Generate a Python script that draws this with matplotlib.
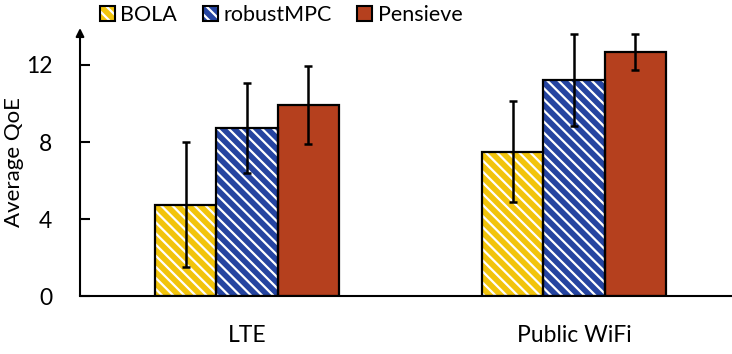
import numpy as np
import matplotlib
matplotlib.use("Agg")
import matplotlib.pyplot as plt
from matplotlib.patches import Patch
from matplotlib.legend_handler import HandlerTuple

groups = ["LTE", "Public WiFi"]
schemes = ["BOLA", "robustMPC", "Pensieve"]
means = {
    "BOLA": [4.75, 7.5],
    "robustMPC": [8.73, 11.22],
    "Pensieve": [9.92, 12.68],
}
errs = {
    "BOLA": [3.25, 2.63],
    "robustMPC": [2.33, 2.4],
    "Pensieve": [2.02, 0.95],
}
colors = {"BOLA": "#F2C40C", "robustMPC": "#2544A0", "Pensieve": "#B5401E"}
hatches = {"BOLA": "\\\\\\", "robustMPC": "\\\\\\", "Pensieve": None}

plt.rcParams["font.family"] = ["Lato", "DejaVu Sans"]
plt.rcParams["hatch.linewidth"] = 1.6

fig = plt.figure(figsize=(7.32, 3.54), dpi=100)
ax = fig.add_axes([0.1093, 0.1638, 0.8907, 0.757])

x = np.arange(len(groups))
w = 0.1875
for i, s in enumerate(schemes):
    pos = x + (i - 1) * w
    # coloured fill with white stripes, then a black outline on top
    ax.bar(pos, means[s], w, facecolor=colors[s], edgecolor="white",
           hatch=hatches[s], linewidth=0, zorder=2)
    ax.bar(pos, means[s], w, fill=False, edgecolor="black", linewidth=1.6, zorder=2.5)
    ax.errorbar(pos, means[s], yerr=errs[s], fmt="none", ecolor="black",
                elinewidth=1.8, capsize=3, capthick=1.8, zorder=3)

ax.set_xlim(-0.511, 1.483)
ax.set_ylim(0, 13.92)
ax.set_yticks([0, 4, 8, 12])
ax.set_xticks(x)
ax.set_xticklabels(groups, fontsize=16.5)
ax.tick_params(axis="x", length=0, pad=21)
ax.tick_params(axis="y", direction="in", length=7, width=1.5, labelsize=16.5, pad=20)
ax.set_ylabel("Average QoE", fontsize=16, labelpad=1)

for sp in ["top", "right", "left"]:
    ax.spines[sp].set_visible(False)
ax.spines["bottom"].set_linewidth(1.5)
ax.annotate("", xy=(0, 1), xytext=(0, 0), xycoords="axes fraction",
            arrowprops=dict(arrowstyle="-|>", lw=1.5, color="black",
                            mutation_scale=12, shrinkA=0, shrinkB=0))

handles = [(Patch(facecolor=colors[s], edgecolor="white", hatch=hatches[s], linewidth=0),
            Patch(fill=False, edgecolor="black", linewidth=1.5)) for s in schemes]
fig.legend(handles, schemes, loc="center", bbox_to_anchor=(0.384, 0.957), ncol=3,
           frameon=False, fontsize=15.5, handlelength=0.7, handleheight=0.7,
           handletextpad=0.25, columnspacing=1.2, borderpad=0,
           handler_map={tuple: HandlerTuple(ndivide=1, pad=0)})

fig.savefig("out.png", dpi=100)
